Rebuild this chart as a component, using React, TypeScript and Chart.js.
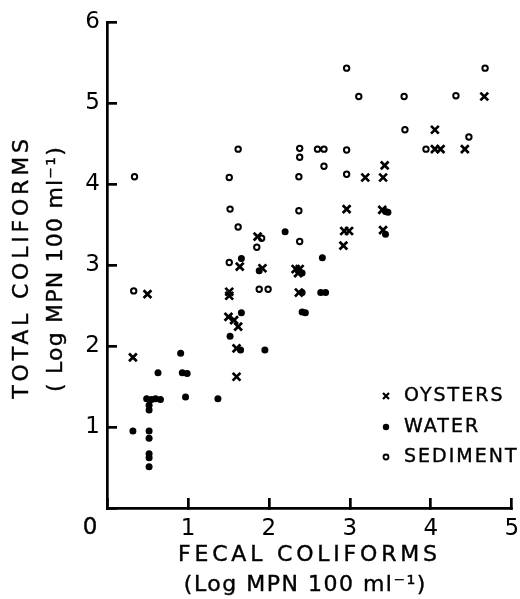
import React, { useEffect, useRef } from 'react';
import { Chart, registerables } from 'chart.js';

Chart.register(...registerables);

const FONT = '"DejaVu Sans", "Liberation Sans", sans-serif';

// Oysters (x = fecal coliforms, y = total coliforms, log MPN/100 ml)
const oysterX = [0.32, 0.50, 1.51, 1.51, 1.50, 1.57, 1.62, 1.60, 1.60, 1.64, 1.86, 1.92, 2.33, 2.38, 2.36, 2.37, 2.92, 2.93, 2.99, 2.96, 3.19, 3.41, 3.43, 3.40, 3.41, 4.05, 4.05, 4.12, 4.42, 4.66];
const oysterY = [1.86, 2.64, 2.67, 2.62, 2.36, 2.32, 2.24, 1.97, 1.62, 2.98, 3.35, 2.96, 2.95, 2.95, 2.90, 2.66, 3.24, 3.42, 3.42, 3.69, 4.08, 4.08, 4.23, 3.68, 3.43, 4.67, 4.43, 4.43, 4.43, 5.08];

// Water
const waterX = [0.32, 0.52, 0.52, 0.52, 0.52, 0.52, 0.52, 0.52, 0.49, 0.55, 0.60, 0.66, 0.63, 0.91, 0.93, 0.99, 0.97, 1.37, 1.52, 1.66, 1.65, 1.95, 2.41, 2.45, 2.64, 2.70, 2.37, 2.41, 2.41, 1.88, 1.66, 2.20, 2.66, 3.44, 3.47, 3.44];
const waterY = [0.95, 0.95, 0.86, 0.67, 0.62, 0.51, 1.21, 1.27, 1.35, 1.34, 1.35, 1.34, 1.67, 1.91, 1.67, 1.66, 1.37, 1.35, 2.12, 2.41, 1.95, 1.95, 2.42, 2.41, 2.66, 2.66, 2.92, 2.90, 2.66, 2.93, 3.08, 3.41, 3.09, 3.66, 3.65, 3.38];

// Sediment
const sedimentX = [0.34, 0.33, 1.62, 1.51, 1.52, 1.62, 1.51, 1.85, 1.91, 1.88, 1.99, 2.38, 2.38, 2.60, 2.68, 2.96, 2.68, 2.37, 2.96, 2.37, 2.38, 2.96, 3.11, 3.67, 4.31, 4.67, 3.68, 4.47, 3.94];
const sedimentY = [4.09, 2.68, 4.43, 4.08, 3.69, 3.47, 3.03, 3.22, 3.33, 2.70, 2.70, 4.44, 4.33, 4.43, 4.43, 4.42, 4.22, 4.09, 4.12, 3.67, 3.29, 5.43, 5.08, 5.08, 5.09, 5.43, 4.67, 4.58, 4.43];

const seriesLabels = ['OYSTERS', 'WATER', 'SEDIMENT'];
const xTitle = ['FECAL COLIFORMS', '(Log MPN 100 ml\u207B\u00B9)'];
const yTitle = ['TOTAL COLIFORMS', '( Log MPN 100 ml\u207B\u00B9)'];
const originLabel = '0';

const zip = (xs: number[], ys: number[]) => xs.map((x, i) => ({ x, y: ys[i] }));

const annotate = {
  id: 'annotate',
  beforeDraw(chart: any) {
    const ctx = chart.ctx;
    ctx.save();
    ctx.fillStyle = '#fff';
    ctx.fillRect(0, 0, chart.width, chart.height);
    ctx.restore();
  },
  afterDraw(chart: any) {
    const ctx = chart.ctx;
    const { left, right, top, bottom } = chart.chartArea;
    ctx.save();
    ctx.fillStyle = '#000';
    ctx.strokeStyle = '#000';
    ctx.textBaseline = 'middle';
    ctx.textAlign = 'center';
    ctx.lineWidth = 0.4;

    const txt = (s: string, x: number, y: number) => {
      ctx.fillText(s, x, y);
      ctx.strokeText(s, x, y);
    };

    // shared origin label
    ctx.font = `23px ${FONT}`;
    txt(originLabel, left - 17, bottom + 20);

    // x title
    ctx.font = `22px ${FONT}`;
    ctx.letterSpacing = '3.8px';
    txt(xTitle[0], (left + right) / 2, bottom + 47);
    ctx.letterSpacing = '1.5px';
    txt(xTitle[1], (left + right) / 2 - 4, bottom + 77);

    // y title
    const cy = (top + bottom) / 2;
    ctx.save();
    ctx.translate(left - 85, cy + 2);
    ctx.rotate(-Math.PI / 2);
    ctx.letterSpacing = '3.8px';
    txt(yTitle[0], 0, 0);
    ctx.restore();
    ctx.save();
    ctx.translate(left - 51, cy + 4);
    ctx.rotate(-Math.PI / 2);
    ctx.letterSpacing = '1.2px';
    txt(yTitle[1], 0, 0);
    ctx.restore();

    // legend
    const mx = 386;
    const tx = 404;
    const rows = [396, 427, 457];
    ctx.font = `19px ${FONT}`;
    ctx.letterSpacing = '2px';
    ctx.textAlign = 'left';
    rows.forEach((ry, i) => {
      txt(seriesLabels[i], tx, ry);
    });
    // oyster marker
    ctx.lineWidth = 2.2;
    ctx.beginPath();
    ctx.moveTo(mx - 3, rows[0] - 3);
    ctx.lineTo(mx + 3, rows[0] + 3);
    ctx.moveTo(mx + 3, rows[0] - 3);
    ctx.lineTo(mx - 3, rows[0] + 3);
    ctx.stroke();
    // water marker
    ctx.beginPath();
    ctx.arc(mx, rows[1], 3.2, 0, Math.PI * 2);
    ctx.fill();
    // sediment marker
    ctx.lineWidth = 1.8;
    ctx.beginPath();
    ctx.arc(mx, rows[2], 2.5, 0, Math.PI * 2);
    ctx.stroke();

    ctx.restore();
  },
};

export default function App() {
  const canvasRef = useRef<HTMLCanvasElement | null>(null);

  useEffect(() => {
    if (!canvasRef.current) return;
    const chart = new Chart(canvasRef.current, {
      type: 'scatter',
      data: {
        datasets: [
          {
            label: seriesLabels[0],
            data: zip(oysterX, oysterY),
            pointStyle: 'crossRot',
            pointRadius: 5.5,
            borderColor: '#000',
            backgroundColor: '#000',
            borderWidth: 2.7,
          },
          {
            label: seriesLabels[1],
            data: zip(waterX, waterY),
            pointStyle: 'circle',
            pointRadius: 3.5,
            borderColor: '#000',
            backgroundColor: '#000',
            borderWidth: 0,
          },
          {
            label: seriesLabels[2],
            data: zip(sedimentX, sedimentY),
            pointStyle: 'circle',
            pointRadius: 2.7,
            borderColor: '#000',
            backgroundColor: '#fff',
            borderWidth: 2,
          },
        ],
      } as any,
      options: {
        animation: false,
        responsive: false,
        maintainAspectRatio: false,
        layout: { padding: { top: 22, right: 7, left: 0, bottom: 0 } },
        plugins: {
          legend: { display: false },
          tooltip: { enabled: false },
        },
        scales: {
          x: {
            type: 'linear',
            position: 'bottom',
            min: 0,
            max: 5,
            ticks: {
              stepSize: 1,
              padding: 17,
              maxRotation: 0,
              color: '#000',
              font: { family: FONT, size: 23 },
              callback: (v: any) => (Number(v) === 0 ? '' : String(v)),
              z: 1,
            },
            grid: { drawOnChartArea: false, tickLength: -10, color: '#000', lineWidth: 2.7 },
            border: { color: '#000', width: 2.7 },
            afterFit: (s: any) => {
              s.height = 91;
              s.paddingLeft = 0;
              s.paddingRight = 0;
            },
          },
          y: {
            type: 'linear',
            position: 'left',
            min: 0,
            max: 6,
            ticks: {
              stepSize: 1,
              padding: 17,
              color: '#000',
              font: { family: FONT, size: 23 },
              callback: (v: any) => (Number(v) === 0 ? '' : String(v)),
              z: 1,
            },
            grid: { drawOnChartArea: false, tickLength: -10, color: '#000', lineWidth: 2.7 },
            border: { color: '#000', width: 2.7 },
            afterFit: (s: any) => {
              s.width = 107;
              s.paddingTop = 0;
              s.paddingBottom = 0;
            },
          },
        },
      } as any,
      plugins: [annotate],
    });
    return () => chart.destroy();
  }, []);

  return (
    <div style={{ position: 'absolute', left: 0, top: 0, width: 520, height: 599, background: '#fff' }}>
      <canvas ref={canvasRef} width={520} height={599} style={{ display: 'block', width: 520, height: 599 }} />
    </div>
  );
}
